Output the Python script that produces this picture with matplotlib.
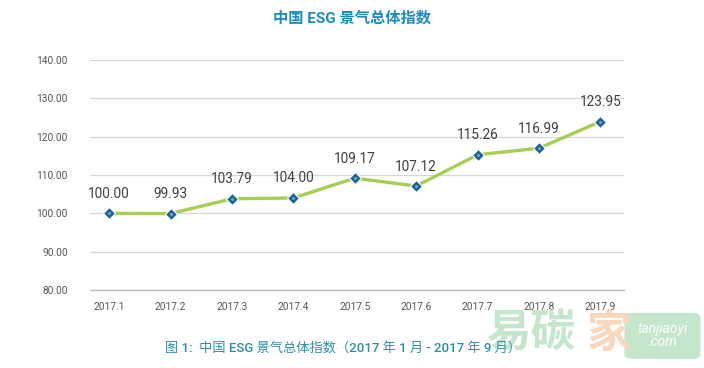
import matplotlib.pyplot as plt
from matplotlib.patches import FancyBboxPatch

plt.rcParams['font.family'] = ['Roboto', 'Noto Sans CJK SC', 'DejaVu Sans']

months = ['2017.1', '2017.2', '2017.3', '2017.4', '2017.5', '2017.6', '2017.7', '2017.8', '2017.9']
index = [100.00, 99.93, 103.79, 104.00, 109.17, 107.12, 115.26, 116.99, 123.95]
yticks = [80, 90, 100, 110, 120, 130, 140]

fig = plt.figure(figsize=(7.04, 3.68), dpi=100)
ax = fig.add_axes([0.128, 0.212, 0.758, 0.625])

x = list(range(len(months)))
ax.plot(x, index, color='#a6cf52', lw=2.4, zorder=3)
ax.plot(x, index, ls='none', marker='D', ms=6.5, mfc='#1a6398', mec='white', mew=0.8, zorder=4)
ax.plot(x, index, ls='none', marker='.', ms=2, color='#7fb0c8', zorder=5)

for xi, v in zip(x, index):
    ax.annotate('%.2f' % v, (xi, v), xytext=(0, 9), textcoords='offset points',
                ha='center', va='bottom', fontsize=9.8, color='#404040')

ax.set_xlim(-0.31, 8.38)
ax.set_ylim(80, 140)
ax.set_yticks(yticks)
ax.set_yticklabels(['%.2f' % t for t in yticks])
ax.set_xticks(x)
ax.set_xticklabels(months)
ax.tick_params(length=0, labelsize=7.3, colors='#555555')
ax.tick_params(axis='y', pad=16)
ax.tick_params(axis='x', pad=9)
ax.grid(axis='y', color='#d6d6d6', lw=0.9)
ax.set_axisbelow(True)
for s in ['top', 'right', 'left']:
    ax.spines[s].set_visible(False)
ax.spines['bottom'].set_color('#bdbdbd')
ax.spines['bottom'].set_linewidth(1)

fig.text(0.5, 0.951, '中国 ESG 景气总体指数', ha='center', va='center',
         fontsize=11, fontweight='bold', color='#1b8cc0')
fig.text(0.234, 0.054, '图 1:  中国 ESG 景气总体指数（2017 年 1 月 - 2017 年 9 月）',
         ha='left', va='center', fontsize=9.5, fontweight='medium', color='#2a90a5')

# watermark
fig.text(0.69, 0.09, '易碳', ha='left', va='center', fontsize=32, fontweight='bold',
         color='#c4e6cb', zorder=0)
fig.text(0.832, 0.09, '家', ha='left', va='center', fontsize=32, fontweight='bold',
         color='#f8d7bc', zorder=0)
box = FancyBboxPatch((0.892, 0.03), 0.098, 0.115, boxstyle='round,pad=0.005,rounding_size=0.012',
                     transform=fig.transFigure, fc='#c4e6cb', ec='none', zorder=0)
fig.patches.append(box)
fig.text(0.941, 0.088, 'tanjiaoyi\n.com', ha='center', va='center', fontsize=10,
         color='white', style='italic', linespacing=0.9)

fig.savefig('out.png', dpi=100)
